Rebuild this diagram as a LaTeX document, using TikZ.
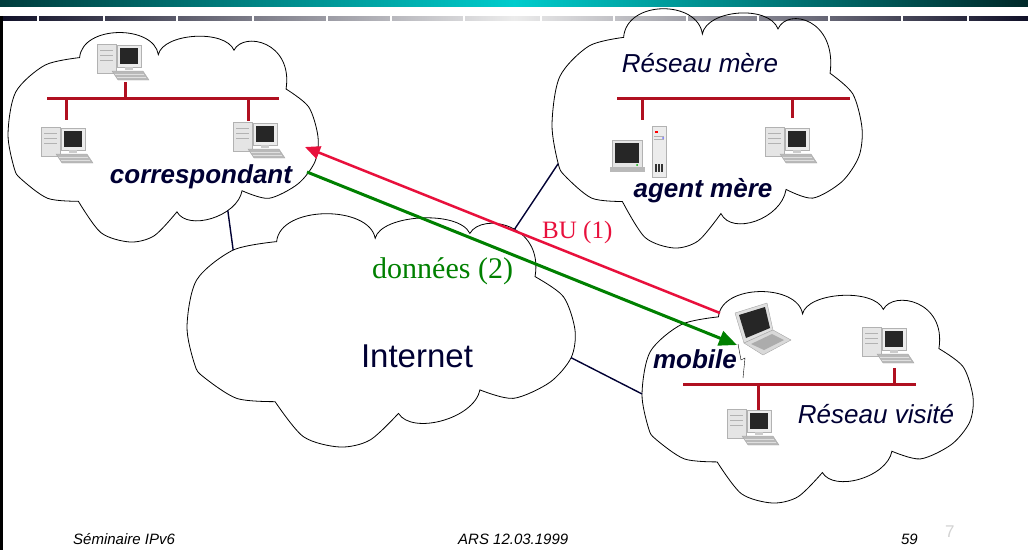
\documentclass[tikz,border=0pt]{standalone}
\usepackage{fontspec}
\setmainfont{Liberation Serif}
\setsansfont{Liberation Sans}
\usetikzlibrary{arrows.meta}
\definecolor{marine}{HTML}{000033}
\definecolor{bordeaux}{HTML}{B01020}
\definecolor{cramoisi}{HTML}{E8103C}
\definecolor{vert}{HTML}{008000}
\definecolor{sarcelle}{HTML}{00CCCC}
\definecolor{sarcelleg}{HTML}{003C3C}
\definecolor{sarcelled}{HTML}{002828}
\definecolor{ardoise}{HTML}{101028}
\tikzset{
  bus/.style={bordeaux, line width=3pt},
  lien/.style={marine, line width=1.4pt},
  etiq/.style={font=\sffamily\fontsize{26}{30}\selectfont, text=marine, inner sep=0pt},
  pics/nuage/.style={code={
    \draw[black, line width=0.8pt]
      plot[smooth] coordinates {(22.7,80.7) (12.8,79.3) (4.2,70.1) (2,65) (0,48.8) (2.5,28.9) (11.9,16.2) (23.1,12.6)}
      .. controls (24,-3) and (47,-3) .. (48.5,11.2)
      .. controls (50,1) and (70,-1) .. (72.9,9.1)
      .. controls (76,0) and (92,5) .. (89.7,27.5)
      -- plot[smooth] coordinates {(89.7,27.5) (97,36) (100,50.2) (99,62) (93.5,72.5) (84.1,79.3) (75.5,75.7)}
      .. controls (74,88) and (58,95) .. (54.5,85.7)
      -- plot[smooth] coordinates {(54.5,85.7) (47.2,97) (39.4,100) (30,95.6) (22.7,80.7)}
      -- cycle;
    \coordinate (-tl) at (11.9,16.2);
    \coordinate (-l) at (0,48.8);
    \coordinate (-ll) at (2,65);
    \coordinate (-tr) at (84.4,7.4);
    \coordinate (-r) at (99,62);
    \coordinate (-b) at (70.9,85);
  }},
  pics/desktop/.style={code={
    \draw[gray!60, fill=gray!20] (-26,-18) rectangle (-7,11);
    \foreach \v in {-12,-7,-2} \draw[gray!60] (-23,\v) -- (-10,\v);
    \draw[gray!60, fill=gray!15] (-6,-17) rectangle (18,5);
    \fill[black!85] (-3,-14) rectangle (15,2);
    \fill[gray!40] (2,5) rectangle (10,8);
    \draw[gray!70, fill=gray!55] (-11,9) -- (20,9) -- (26,18) -- (-5,18) -- cycle;
    \draw[gray!25] (-8,12) -- (21,12) (-6,15) -- (23,15);
  }},
  pics/portable/.style={code={
    \draw[gray!70, fill=gray!25] (-28,-16) -- (4,-26) -- (10,1) -- (-19,14) -- cycle;
    \fill[black!85] (-24,-14) -- (2,-22) -- (7,-1) -- (-17,9) -- cycle;
    \draw[gray!70, fill=gray!30] (-19,14) -- (10,1) -- (28,11) -- (0,26) -- cycle;
    \fill[gray!65] (-12,15) -- (9,5) -- (21,11) -- (1,21) -- cycle;
  }},
  pics/agent/.style={code={
    \draw[gray!60, fill=gray!20] (-26,-12) rectangle (4,15);
    \fill[black!85] (-23,-9) rectangle (1,11);
    \fill[green!70!black] (-1,13) circle (1);
    \fill[gray!55] (-28,15) rectangle (7,20);
    \draw[gray!60, fill=gray!15] (14,-26) rectangle (28,25);
    \fill[red] (17,-21) rectangle (20,-19);
    \draw[gray!60] (16,-16) -- (26,-16) (16,-13) -- (26,-13);
    \fill[blue!60] (25,-14) circle (1);
    \foreach \s in {18,21,24} \draw[black!80, line width=1.2] (\s,12) -- (\s,20);
  }}
}
\begin{document}
\begin{tikzpicture}[x=1pt, y=-1pt]
  \useasboundingbox (0,0) rectangle (1028,550);
  % bandeau
  \shade[left color=sarcelleg, right color=sarcelled, middle color=sarcelle] (0,0) rectangle (1028,6);
  \shade[left color=ardoise, right color=ardoise, middle color=gray!15] (0,16) rectangle (1028,20);
  \foreach \g in {37,103,176,252,326,390,463,540,613,686,757,828,901,967}
    \fill[white] (\g,15) rectangle (\g+2,21);
  \draw[line width=3pt] (1.5,16) -- (1.5,550);
  % nuages
  \pic[shift={(8pt,-31pt)}, x=3.1pt, y=-2.11pt] (corr) {nuage};
  \pic[shift={(552pt,-7pt)}, x=3.1pt, y=-2.41pt] (home) {nuage};
  \pic[shift={(187pt,-212pt)}, x=3.88pt, y=-2.35pt] (inet) {nuage};
  \pic[shift={(642pt,-290pt)}, x=3.31pt, y=-2.13pt] (visit) {nuage};
  \draw[lien] (corr-b) -- (inet-tl);
  \draw[lien] (home-ll) -- (inet-tr);
  \draw[lien] (inet-r) -- (visit-l);
  % reseaux
  \draw[bus] (47,98) -- (279,98) (125,82) -- (125,98) (66,98) -- (66,120) (248,98) -- (248,121);
  \draw[bus] (617,98) -- (850,98) (642,98) -- (642,120) (792,98) -- (792,118);
  \draw[bus] (683,384) -- (916,384) (894,368) -- (894,384) (758,384) -- (758,410);
  \foreach \p in {(123,62),(67,145),(259,140),(791,145),(888,345),(753,427)}
    \pic at \p {desktop};
  \pic at (638,152) {agent};
  \pic at (763,329) {portable};
  \draw[black] (738,344) -- (741,360) -- (745,358) -- (743,378);
  % textes
  \node[etiq, font=\sffamily\bfseries\itshape\fontsize{26}{30}\selectfont, anchor=base] (lcorr) at (201,183) {correspondant};
  \node[etiq, font=\sffamily\bfseries\itshape\fontsize{26}{30}\selectfont, anchor=base] (lagent) at (703,197) {agent mère};
  \node[etiq, font=\sffamily\itshape\fontsize{26}{30}\selectfont, anchor=base] (lhome) at (700,72) {Réseau mère};
  \node[etiq, font=\sffamily\bfseries\itshape\fontsize{26}{30}\selectfont, anchor=base] (lmob) at (695,368) {mobile};
  \node[etiq, font=\sffamily\itshape\fontsize{26}{30}\selectfont, anchor=base] (lvisit) at (876,423) {Réseau visité};
  \node[etiq, font=\sffamily\fontsize{33}{38}\selectfont, anchor=base] (linet) at (417,367) {Internet};
  % fleches
  \coordinate (buA) at (720,313);
  \coordinate (buB) at (305,147);
  \coordinate (dA) at (307,172);
  \coordinate (dB) at (737,345);
  \draw[cramoisi, line width=2.5pt, -{Triangle[length=15pt, width=13pt]}] (buA) -- (buB);
  \draw[vert, line width=3pt, -{Triangle[length=18pt, width=15pt]}] (dA) -- (dB);
  \node[font=\fontsize{25}{28}\selectfont, text=cramoisi, anchor=base west, inner sep=0pt] (lbu) at (542,238) {BU (1)};
  \node[font=\fontsize{30}{34}\selectfont, text=vert, anchor=base west, inner sep=0pt] (ldon) at (372,278) {données (2)};
  % pied de page
  \node[font=\sffamily\itshape\fontsize{15}{18}\selectfont, anchor=base west, inner sep=0pt] (pied1) at (73,544) {Séminaire IPv6};
  \node[font=\sffamily\itshape\fontsize{15}{18}\selectfont, anchor=base west, inner sep=0pt] (pied2) at (458,544) {ARS 12.03.1999};
  \node[font=\sffamily\itshape\fontsize{15}{18}\selectfont, anchor=base east, inner sep=0pt] (pied3) at (918,544) {59};
  \node[font=\sffamily\fontsize{17}{20}\selectfont, text=gray!35, anchor=base west, inner sep=0pt] (pied4) at (945,537) {7};
\end{tikzpicture}
\end{document}
